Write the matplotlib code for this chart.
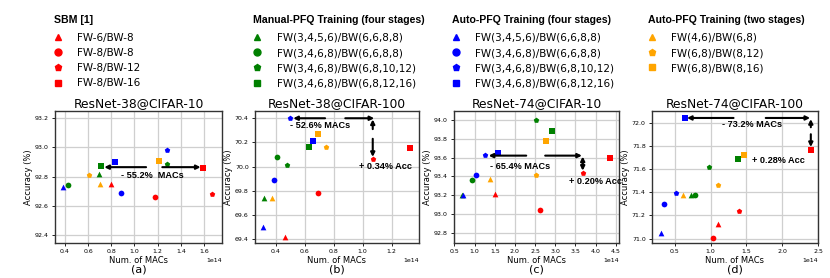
import matplotlib
matplotlib.use('Agg')
import matplotlib.pyplot as plt
from matplotlib.lines import Line2D

# legend groups
group_titles = ['SBM [1]', 'Manual-PFQ Training (four stages)',
                'Auto-PFQ Training (four stages)', 'Auto-PFQ Training (two stages)']
group_labels = [
    ['FW-6/BW-8', 'FW-8/BW-8', 'FW-8/BW-12', 'FW-8/BW-16'],
    ['FW(3,4,5,6)/BW(6,6,8,8)', 'FW(3,4,6,8)/BW(6,6,8,8)', 'FW(3,4,6,8)/BW(6,8,10,12)', 'FW(3,4,6,8)/BW(6,8,12,16)'],
    ['FW(3,4,5,6)/BW(6,6,8,8)', 'FW(3,4,6,8)/BW(6,6,8,8)', 'FW(3,4,6,8)/BW(6,8,10,12)', 'FW(3,4,6,8)/BW(6,8,12,16)'],
    ['FW(4,6)/BW(6,8)', 'FW(6,8)/BW(8,12)', 'FW(6,8)/BW(8,16)'],
]
group_markers = [['^', 'o', 'p', 's'], ['^', 'o', 'p', 's'], ['^', 'o', 'p', 's'], ['^', 'p', 's']]
group_colors = ['red', 'green', 'blue', 'orange']

titles = ['ResNet-38@CIFAR-10', 'ResNet-38@CIFAR-100', 'ResNet-74@CIFAR-10', 'ResNet-74@CIFAR-100']
captions = ['(a)', '(b)', '(c)', '(d)']

# MACs (x 1e14), same order as the legend entries
macs_a = [[0.80, 1.18, 1.67, 1.59], [0.69, 0.43, 1.28, 0.71], [0.385, 0.88, 1.28, 0.83], [0.70, 0.61, 1.21]]
acc_a = [[92.75, 92.66, 92.68, 92.86], [92.82, 92.74, 92.89, 92.87], [92.73, 92.69, 92.98, 92.90], [92.75, 92.81, 92.91]]

macs_b = [[0.46, 0.69, 1.07, 1.33], [0.32, 0.41, 0.48, 0.63], [0.31, 0.39, 0.50, 0.66], [0.375, 0.745, 0.69]]
acc_b = [[69.42, 69.78, 70.06, 70.15], [69.74, 70.08, 70.01, 70.16], [69.50, 69.89, 70.40, 70.21], [69.74, 70.16, 70.27]]

macs_c = [[1.50, 2.62, 3.68, 4.35], [0.70, 0.93, 2.52, 2.92], [0.72, 1.04, 1.27, 1.58], [1.38, 2.52, 2.77]]
acc_c = [[93.21, 93.04, 93.43, 93.60], [93.20, 93.36, 94.00, 93.88], [93.20, 93.41, 93.63, 93.65], [93.37, 93.41, 93.78]]

macs_d = [[1.10, 1.03, 1.40, 2.40], [0.73, 0.78, 0.98, 1.38], [0.31, 0.35, 0.52, 0.64], [0.62, 1.10, 1.46]]
acc_d = [[71.13, 71.01, 71.24, 71.76], [71.38, 71.38, 71.62, 71.69], [71.05, 71.30, 71.39, 72.04], [71.38, 71.46, 71.72]]

macs_all = [macs_a, macs_b, macs_c, macs_d]
acc_all = [acc_a, acc_b, acc_c, acc_d]

xlims = [(0.315, 1.755), (0.255, 1.39), (0.49, 4.58), (0.18, 2.5)]
ylims = [(92.345, 93.25), (69.367, 70.46), (92.69, 94.095), (70.963, 72.10)]
xticks = [[0.4, 0.6, 0.8, 1.0, 1.2, 1.4, 1.6], [0.4, 0.6, 0.8, 1.0, 1.2],
          [0.5, 1.0, 1.5, 2.0, 2.5, 3.0, 3.5, 4.0, 4.5], [0.5, 1.0, 1.5, 2.0, 2.5]]
yticks = [[92.4, 92.6, 92.8, 93.0, 93.2], [69.4, 69.6, 69.8, 70.0, 70.2, 70.4],
          [92.8, 93.0, 93.2, 93.4, 93.6, 93.8, 94.0], [71.0, 71.2, 71.4, 71.6, 71.8, 72.0]]

# annotation: (left arrow tail, left head, right tail, right head, y), mac text, acc text
arrows = [
    (1.10, 0.74, 1.24, 1.57, 92.865),
    (0.74, 0.52, 0.88, 1.08, 70.40),
    (2.28, 1.35, 2.75, 3.66, 93.62),
    (1.32, 0.67, 1.77, 2.39, 72.04),
]
vert = [None, (1.07, 70.31, 70.39, 70.23, 70.08), (3.68, 93.535, 93.61, 93.535, 93.46),
        (2.40, 71.96, 72.03, 71.90, 71.79)]
mac_txt = [('- 55.2%  MACs', 1.15, 92.805), ('- 52.6% MACs', 0.705, 70.34),
           ('- 65.4% MACs', 2.12, 93.50), ('- 73.2% MACs', 1.58, 71.98)]
acc_txt = [None, ('+ 0.34% Acc', 1.16, 70.00), ('+ 0.20% Acc', 4.0, 93.345), ('+ 0.28% Acc', 1.95, 71.67)]

bold_font = {'family': 'Liberation Sans', 'weight': 'bold', 'size': 6.6}

fig = plt.figure(figsize=(8.3, 2.78), dpi=100)
lefts = [0.0663, 0.3072, 0.547, 0.7855]
widths = [0.2012, 0.1976, 0.1988, 0.2]

for i in range(4):
    ax = fig.add_axes([lefts[i], 0.1259, widths[i], 0.4748])
    ax.grid(True, color='#cfcfcf', lw=0.9)
    ax.set_axisbelow(True)
    for g in range(4):
        for x, y, m in zip(macs_all[i][g], acc_all[i][g], group_markers[g]):
            ax.scatter(x * 1e14, y, marker=m, color=group_colors[g], s=17, zorder=3, linewidths=0)
    ax.set_xlim(xlims[i][0] * 1e14, xlims[i][1] * 1e14)
    ax.set_ylim(*ylims[i])
    ax.set_xticks([t * 1e14 for t in xticks[i]])
    ax.set_yticks(yticks[i])
    ax.tick_params(labelsize=4.5, length=2.5, width=0.6, pad=2)
    ax.xaxis.get_offset_text().set_fontsize(4.5)
    ax.set_title(titles[i], fontsize=8.8, pad=3)
    ax.set_xlabel('Num. of MACs', fontsize=6, labelpad=1)
    ax.set_ylabel('Accuracy (%)', fontsize=6, labelpad=1)
    for sp in ax.spines.values():
        sp.set_color('#333333')
        sp.set_linewidth(1.0)

    a = arrows[i]
    ap = dict(arrowstyle='-|>', lw=1.5, color='black', mutation_scale=6, shrinkA=0, shrinkB=0)
    ax.annotate('', xy=(a[1] * 1e14, a[4]), xytext=(a[0] * 1e14, a[4]), arrowprops=ap)
    ax.annotate('', xy=(a[3] * 1e14, a[4]), xytext=(a[2] * 1e14, a[4]), arrowprops=ap)
    if vert[i] is not None:
        v = vert[i]
        ax.annotate('', xy=(v[0] * 1e14, v[2]), xytext=(v[0] * 1e14, v[1]), arrowprops=ap)
        ax.annotate('', xy=(v[0] * 1e14, v[4]), xytext=(v[0] * 1e14, v[3]), arrowprops=ap)
    t = mac_txt[i]
    ax.text(t[1] * 1e14, t[2], t[0], fontdict=bold_font, ha='center', va='center', zorder=4)
    if acc_txt[i] is not None:
        t = acc_txt[i]
        ax.text(t[1] * 1e14, t[2], t[0], fontdict=bold_font, ha='center', va='center', zorder=4)

    fig.text(lefts[i] + widths[i] / 2, 0.03, captions[i], fontsize=8, ha='center', va='center')

# legends
leg_x = [0.065, 0.305, 0.5446, 0.7807]
for g in range(4):
    handles = [Line2D([], [], ls='', marker=m, color=group_colors[g], markersize=5)
               for m in group_markers[g]]
    leg = fig.legend(handles, group_labels[g], loc='upper left', bbox_to_anchor=(leg_x[g], 0.945),
                     frameon=False, fontsize=7.5, title=group_titles[g],
                     title_fontproperties={'family': 'Liberation Sans', 'weight': 'bold', 'size': 7.6},
                     alignment='left', handletextpad=1.45, handlelength=0.8, labelspacing=0.49,
                     borderpad=0, borderaxespad=0)
    leg._legend_box.sep = 5.5  # a bit more room under the group title

fig.savefig('out.png', dpi=100)
